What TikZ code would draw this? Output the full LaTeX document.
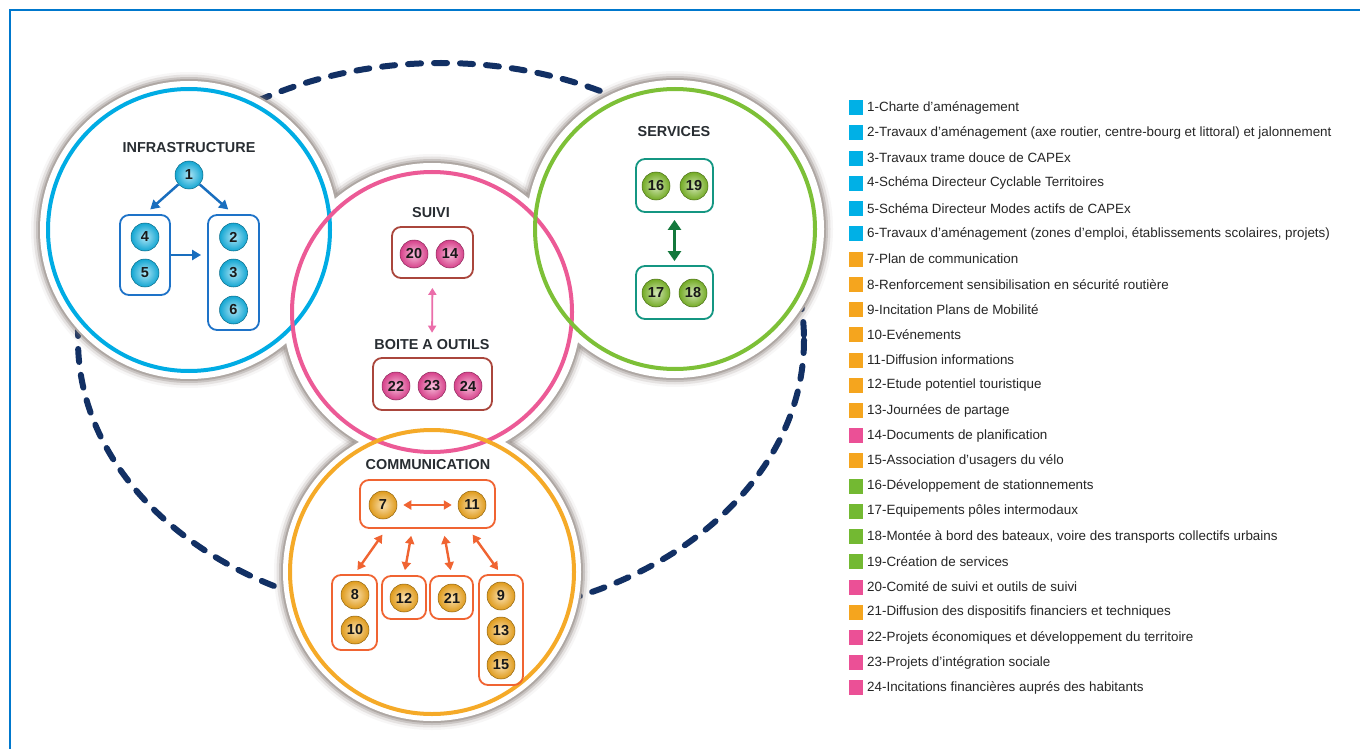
\documentclass[tikz,border=0pt]{standalone}
\usepackage{fontspec}
\setmainfont{Liberation Sans}
\usetikzlibrary{arrows.meta,calc}
\definecolor{framecol}{RGB}{0,120,205}
\definecolor{dashcol}{RGB}{18,48,100}
\definecolor{ringblue}{RGB}{0,172,228}
\definecolor{ringpink}{RGB}{236,90,150}
\definecolor{ringgreen}{RGB}{125,192,55}
\definecolor{ringorange}{RGB}{245,170,40}
\definecolor{cyanb}{RGB}{20,180,228}
\definecolor{pinkb}{RGB}{232,70,150}
\definecolor{greenb}{RGB}{125,185,40}
\definecolor{orangeb}{RGB}{242,168,30}
\definecolor{boxblue}{RGB}{30,115,200}
\definecolor{boxbrown}{RGB}{170,70,60}
\definecolor{boxteal}{RGB}{20,150,130}
\definecolor{boxorange}{RGB}{240,100,50}
\definecolor{arrblue}{RGB}{25,110,190}
\definecolor{arrpink}{RGB}{235,110,170}
\definecolor{arrgreen}{RGB}{20,120,60}
\definecolor{txtdark}{RGB}{40,45,50}
\definecolor{shadowc}{RGB}{120,108,102}
\definecolor{lcyan}{RGB}{0,176,230}
\definecolor{lorange}{RGB}{245,165,30}
\definecolor{lpink}{RGB}{235,80,150}
\definecolor{lgreen}{RGB}{115,185,50}
\newcommand\legitem[3]{%
  \node[legsq,fill=#2] (s#1) at (856,{107.7+25.23*(#1-1)}) {};
  \node[legtxt] (l#1) at (865,{107.7+25.23*(#1-1)}) {#3};}
\begin{document}
\begin{tikzpicture}[x=1pt,y=-1pt,
  title/.style={font=\bfseries\fontsize{14.4}{14.4}\selectfont, text=txtdark, inner sep=1pt},
  ball/.style={circle, minimum size=28pt, inner sep=0pt, font=\bfseries\fontsize{14.5}{14.5}\selectfont, text=black!90, line width=0.5pt},
  bcyan/.style={ball, inner color=cyanb!35!white, outer color=cyanb!92!black, draw=cyanb!60!black},
  bpink/.style={ball, inner color=pinkb!35!white, outer color=pinkb!92!black, draw=pinkb!60!black},
  bgreen/.style={ball, inner color=greenb!35!white, outer color=greenb!92!black, draw=greenb!60!black},
  borange/.style={ball, inner color=orangeb!35!white, outer color=orangeb!92!black, draw=orangeb!60!black},
  grp/.style={draw, rounded corners=9pt, line width=1.8pt, inner sep=0pt},
  arrb/.style={draw=arrblue, line width=2.5pt, -{Triangle[length=9pt,width=10pt]}},
  arrp/.style={draw=arrpink, line width=1.8pt, {Triangle[length=7pt,width=8pt]}-{Triangle[length=7pt,width=8pt]}},
  arrg/.style={draw=arrgreen, line width=3.5pt, {Triangle[length=10pt,width=13pt]}-{Triangle[length=10pt,width=13pt]}},
  arro/.style={draw=boxorange, line width=2.4pt, {Triangle[length=8pt,width=9pt]}-{Triangle[length=8pt,width=9pt]}},
  legsq/.style={minimum width=14pt, minimum height=15pt, inner sep=0pt},
  legtxt/.style={anchor=west, inner sep=2pt, font=\fontsize{13.4}{14}\selectfont, text=black!85},
  ring/.style={line width=4pt}
]
\useasboundingbox (0,0) rectangle (1360,749);
\fill[white] (0,0) rectangle (1360,749);
% frame
\draw[framecol, line width=2.2pt] (1370,10) -- (10,10) -- (10,760);
% dashed ellipse
\coordinate (cE) at (441,340);
\draw[dashcol, line width=6pt, line cap=round, dash pattern=on 13pt off 13pt] (cE) ellipse [x radius=363, y radius=277];
% circle centres
\coordinate (cI) at (189,230);
\coordinate (cS) at (432,312);
\coordinate (cV) at (675,229);
\coordinate (cC) at (432,572);
% shadows
\foreach \c in {cI,cS,cV,cC} {\fill[shadowc, opacity=0.06] (\c) circle (158);}
\foreach \c in {cI,cS,cV,cC} {\fill[shadowc, opacity=0.14] (\c) circle (155.5);}
\foreach \c in {cI,cS,cV,cC} {\fill[shadowc, opacity=0.25] (\c) circle (153);}
\foreach \c in {cI,cS,cV,cC} {\fill[shadowc!60!white] (\c) circle (151);}
% white disks
\foreach \c in {cI,cS,cV,cC} {\fill[white] (\c) circle (149);}
% rings
\draw[ring, ringblue] (cI) circle (141);
\draw[ring, ringpink] (cS) circle (140);
\draw[ring, ringgreen] (cV) circle (140);
\draw[ring, ringorange] (cC) circle (142);

% ---------- INFRASTRUCTURE
\node[title] (tI) at (189,148) {INFRASTRUCTURE};
\node[grp, draw=boxblue, minimum width=50pt, minimum height=80pt] (g45) at (145,255) {};
\node[grp, draw=boxblue, minimum width=51pt, minimum height=115pt] (g236) at (233.5,272.5) {};
\node[bcyan] (b1) at (189,175) {1};
\node[bcyan] (b4) at (145,237) {4};
\node[bcyan] (b5) at (145,273) {5};
\node[bcyan] (b2) at (233.5,237) {2};
\node[bcyan] (b3) at (233.5,273) {3};
\node[bcyan] (b6) at (233.5,310) {6};
\draw[arrb, shorten >=7pt] (b1) -- (g45.north);
\draw[arrb, shorten >=7pt] (b1) -- (g236.north);
\draw[arrb, shorten >=6pt] (g45.east) -- (g45.east -| g236.west);

% ---------- SUIVI
\node[title] (tS) at (431,213) {SUIVI};
\node[grp, draw=boxbrown, minimum width=81pt, minimum height=51pt] (g2014) at (432.5,252.5) {};
\node[bpink] (b20) at (414,254) {20};
\node[bpink] (b14) at (450,254) {14};
\node[title] (tT) at (432,345) {BOITE A OUTILS};
\node[grp, draw=boxbrown, minimum width=119pt, minimum height=52pt] (gT) at (432.5,384) {};
\node[bpink] (b22) at (396,386) {22};
\node[bpink] (b23) at (432,386) {23};
\node[bpink] (b24) at (468,386) {24};
\draw[arrp, shorten <=9pt, shorten >=6pt] (g2014.south) -- (tT.north);

% ---------- SERVICES
\node[title] (tV) at (674,132) {SERVICES};
\node[grp, draw=boxteal, minimum width=77pt, minimum height=53pt] (g1619) at (674.5,185.5) {};
\node[bgreen] (b16) at (656,186) {16};
\node[bgreen] (b19) at (694,186) {19};
\node[grp, draw=boxteal, minimum width=77pt, minimum height=53pt] (g1718) at (674.5,292.5) {};
\node[bgreen] (b17) at (656,293) {17};
\node[bgreen] (b18) at (693,293) {18};
\draw[arrg, shorten <=7pt, shorten >=4pt] (g1619.south) -- (g1718.north);

% ---------- COMMUNICATION
\node[title] (tC) at (428,465) {COMMUNICATION};
\node[grp, draw=boxorange, minimum width=135pt, minimum height=48pt] (g711) at (427.5,504) {};
\node[borange] (b7) at (383,505) {7};
\node[borange] (b11) at (472,505) {11};
\node[grp, draw=boxorange, minimum width=45pt, minimum height=75pt] (g810) at (354.5,612.5) {};
\node[grp, draw=boxorange, minimum width=44pt, minimum height=43pt] (g12) at (404,597.5) {};
\node[grp, draw=boxorange, minimum width=43pt, minimum height=43pt] (g21) at (451.5,597.5) {};
\node[grp, draw=boxorange, minimum width=44pt, minimum height=110pt] (g91315) at (501,630) {};
\node[borange] (b8) at (355,595) {8};
\node[borange] (b10) at (355,630) {10};
\node[borange] (b12) at (404,598) {12};
\node[borange] (b21) at (452,598) {21};
\node[borange] (b9) at (501,596) {9};
\node[borange] (b13) at (501,631) {13};
\node[borange] (b15) at (501,665) {15};
\draw[arro, shorten <=6pt, shorten >=6pt] (b7) -- (b11);
\draw[arro, shorten <=7pt, shorten >=5pt] ($(g711.south west)!0.2!(g711.south east)$) -- (g810.north);
\draw[arro, shorten <=7pt, shorten >=5pt] ($(g711.south west)!0.39!(g711.south east)$) -- (g12.north);
\draw[arro, shorten <=7pt, shorten >=5pt] ($(g711.south west)!0.615!(g711.south east)$) -- (g21.north);
\draw[arro, shorten <=7pt, shorten >=5pt] ($(g711.south west)!0.8!(g711.south east)$) -- (g91315.north);

% ---------- LEGEND
\legitem{1}{lcyan}{1-Charte d'aménagement}
\legitem{2}{lcyan}{2-Travaux d'aménagement (axe routier, centre-bourg et littoral) et jalonnement}
\legitem{3}{lcyan}{3-Travaux trame douce de CAPEx}
\legitem{4}{lcyan}{4-Schéma Directeur Cyclable Territoires}
\legitem{5}{lcyan}{5-Schéma Directeur Modes actifs de CAPEx}
\legitem{6}{lcyan}{6-Travaux d'aménagement (zones d'emploi, établissements scolaires, projets)}
\legitem{7}{lorange}{7-Plan de communication}
\legitem{8}{lorange}{8-Renforcement sensibilisation en sécurité routière}
\legitem{9}{lorange}{9-Incitation Plans de Mobilité}
\legitem{10}{lorange}{10-Evénements}
\legitem{11}{lorange}{11-Diffusion informations}
\legitem{12}{lorange}{12-Etude potentiel touristique}
\legitem{13}{lorange}{13-Journées de partage}
\legitem{14}{lpink}{14-Documents de planification}
\legitem{15}{lorange}{15-Association d'usagers du vélo}
\legitem{16}{lgreen}{16-Développement de stationnements}
\legitem{17}{lgreen}{17-Equipements pôles intermodaux}
\legitem{18}{lgreen}{18-Montée à bord des bateaux, voire des transports collectifs urbains}
\legitem{19}{lgreen}{19-Création de services}
\legitem{20}{lpink}{20-Comité de suivi et outils de suivi}
\legitem{21}{lorange}{21-Diffusion des dispositifs financiers et techniques}
\legitem{22}{lpink}{22-Projets économiques et développement du territoire}
\legitem{23}{lpink}{23-Projets d'intégration sociale}
\legitem{24}{lpink}{24-Incitations financières auprés des habitants}
\end{tikzpicture}
\end{document}
